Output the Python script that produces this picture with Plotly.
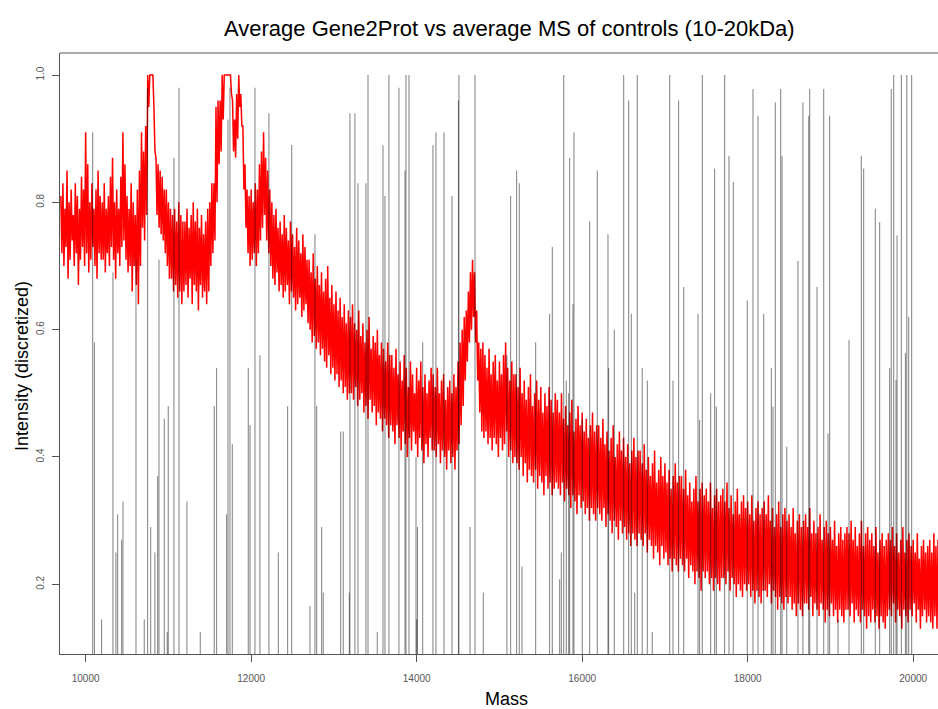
import plotly.graph_objects as go

# ---------------- data ----------------
# Red series (average Gene2Prot, discretized intensity in %): the dense line swings
# between an upper and a lower value; read every 25 Da from 9700 Da, upper value at
# each step and lower value half a step later.
red_start = 9700
red_step = 25
red_upper = [
    # 9700-10175
    81, 83, 79, 85, 80, 82, 78, 83, 81, 79, 84, 82, 91, 86, 80, 83, 79, 82, 85, 81,
    # 10200-10675
    80, 83, 79, 81, 84, 87, 80, 82, 79, 84, 91, 86, 81, 79, 83, 80, 78, 82, 85, 91,
    # 10700-11175
    88, 92, 100, 100, 100, 95, 87, 86, 85, 84, 82, 82, 80, 79, 78, 79, 77, 80, 78, 77,
    # 11200-11675
    77, 79, 76, 78, 80, 77, 79, 76, 78, 75, 77, 79, 80, 83, 83, 95, 96, 96, 100, 100,
    # 11700-12175
    100, 100, 100, 96, 93, 97, 100, 97, 92, 86, 82, 81, 82, 80, 83, 82, 86, 88, 91, 87,
    # 12200-12675
    85, 82, 80, 78, 79, 76, 77, 75, 78, 76, 74, 77, 75, 73, 76, 74, 72, 75, 73, 71,
    # 12700-13175
    71, 69, 72, 68, 70, 67, 69, 66, 68, 70, 65, 67, 64, 66, 63, 65, 62, 64, 61, 63,
    # 13200-13675
    62, 64, 61, 60, 63, 59, 61, 58, 60, 62, 57, 59, 58, 60, 56, 58, 57, 55, 58, 56,
    # 13700-14175
    56, 54, 57, 53, 55, 52, 56, 54, 51, 55, 53, 50, 54, 52, 55, 51, 53, 50, 52, 54,
    # 14200-14675
    53, 51, 54, 50, 52, 53, 49, 51, 52, 50, 53, 51, 55, 58, 60, 62, 63, 66, 69, 71,
    # 14700-15175
    69, 63, 58, 57, 58, 56, 54, 57, 53, 55, 56, 52, 55, 53, 56, 58, 54, 52, 55, 53,
    # 15200-15675
    53, 51, 54, 50, 52, 49, 51, 53, 48, 50, 52, 49, 51, 47, 50, 48, 51, 49, 47, 50,
    # 15700-16175
    49, 47, 50, 46, 48, 45, 47, 49, 44, 46, 48, 45, 47, 44, 46, 43, 45, 47, 44, 45,
    # 16200-16675
    45, 43, 46, 42, 44, 41, 43, 45, 40, 42, 44, 41, 43, 40, 42, 39, 41, 43, 40, 41,
    # 16700-17175
    41, 39, 42, 38, 40, 37, 39, 41, 36, 38, 40, 37, 39, 36, 38, 35, 37, 39, 36, 37,
    # 17200-17675
    37, 35, 38, 34, 36, 33, 35, 37, 33, 35, 36, 34, 35, 33, 36, 32, 34, 35, 33, 34,
    # 17700-18175
    35, 33, 36, 32, 34, 31, 33, 35, 31, 33, 34, 32, 33, 31, 34, 30, 32, 33, 31, 32,
    # 18200-18675
    33, 31, 34, 30, 32, 29, 31, 33, 29, 31, 32, 30, 31, 29, 32, 28, 30, 31, 29, 30,
    # 18700-19175
    31, 29, 32, 28, 30, 28, 29, 31, 27, 29, 30, 28, 29, 27, 30, 26, 28, 29, 27, 28,
    # 19200-19675
    29, 28, 30, 27, 29, 26, 28, 30, 26, 28, 29, 27, 28, 26, 29, 25, 27, 28, 26, 27,
    # 19700-20175
    28, 27, 29, 26, 28, 25, 27, 29, 25, 27, 28, 26, 27, 25, 28, 24, 26, 27, 25, 26,
    # 20200-20300
    27, 25, 28, 26, 27,
]
red_lower = [
    # 9712-10187
    72, 70, 73, 68, 71, 74, 70, 72, 67, 71, 73, 70, 72, 69, 71, 73, 70, 68, 72, 71,
    # 10212-10687
    71, 69, 72, 70, 73, 71, 68, 72, 70, 73, 74, 71, 69, 70, 66, 70, 67, 64, 70, 76,
    # 10712-11187
    74, 78, 95, 100, 100, 88, 78, 76, 75, 74, 72, 70, 68, 68, 66, 67, 65, 66, 64, 66,
    # 11212-11687
    67, 65, 68, 64, 67, 66, 63, 67, 65, 66, 64, 66, 70, 72, 74, 80, 86, 88, 93, 100,
    # 11712-12187
    100, 100, 97, 88, 87, 90, 95, 92, 82, 76, 72, 70, 71, 72, 70, 72, 74, 76, 78, 74,
    # 12212-12687
    72, 70, 68, 67, 69, 66, 67, 65, 66, 67, 64, 66, 65, 63, 64, 65, 62, 63, 64, 61,
    # 12712-13187
    60, 58, 59, 57, 58, 56, 57, 55, 54, 56, 53, 54, 52, 53, 51, 52, 50, 51, 49, 50,
    # 13212-13687
    50, 49, 51, 48, 49, 50, 47, 48, 46, 49, 47, 48, 45, 47, 46, 44, 46, 45, 43, 45,
    # 13712-14187
    44, 42, 45, 43, 41, 44, 42, 40, 43, 41, 44, 42, 40, 43, 41, 39, 42, 40, 43, 41,
    # 14212-14687
    41, 40, 42, 39, 41, 40, 38, 41, 39, 40, 38, 41, 42, 45, 48, 52, 55, 58, 60, 62,
    # 14712-15187
    58, 52, 47, 44, 43, 44, 42, 43, 41, 43, 42, 40, 43, 41, 42, 44, 40, 41, 39, 40,
    # 15212-15687
    39, 38, 40, 37, 39, 36, 38, 37, 36, 38, 35, 37, 36, 34, 37, 35, 36, 34, 35, 36,
    # 15712-16187
    35, 34, 36, 33, 35, 34, 32, 34, 33, 31, 34, 32, 33, 31, 32, 30, 32, 31, 30, 32,
    # 16212-16687
    31, 30, 32, 29, 31, 30, 28, 30, 29, 27, 30, 28, 29, 27, 28, 26, 28, 27, 26, 28,
    # 16712-17187
    27, 26, 28, 25, 27, 26, 24, 26, 25, 23, 26, 24, 25, 23, 24, 22, 24, 23, 22, 24,
    # 17212-17687
    23, 22, 24, 21, 23, 22, 20, 22, 21, 19, 22, 21, 22, 20, 21, 19, 21, 20, 19, 21,
    # 17712-18187
    21, 20, 22, 19, 21, 20, 18, 20, 19, 18, 20, 19, 20, 18, 19, 17, 19, 18, 17, 19,
    # 18212-18687
    19, 18, 20, 17, 19, 18, 16, 18, 17, 16, 18, 17, 18, 16, 17, 15, 17, 16, 15, 17,
    # 18712-19187
    17, 16, 18, 15, 17, 16, 15, 17, 16, 14, 16, 15, 17, 15, 16, 14, 16, 15, 14, 16,
    # 19212-19687
    16, 15, 17, 14, 16, 15, 14, 16, 15, 13, 15, 14, 16, 14, 15, 13, 15, 14, 13, 15,
    # 19712-20187
    16, 15, 17, 14, 16, 15, 13, 16, 15, 14, 16, 15, 17, 14, 16, 13, 15, 16, 14, 15,
    # 20212-20312
    14, 13, 15, 13, 14,
]

# Black spikes: average MS of controls (mass, intensity)
ms_mass = [
    10085, 10106, 10193, 10330, 10366, 10387, 10435, 10451, 10608, 10708,
    10749, 10786, 10837, 10870, 10886, 10950, 10986, 10998, 11067, 11128,
    11224, 11385, 11554, 11583, 11704, 11720, 11744, 11772, 11965, 11986,
    12046, 12106, 12215, 12328, 12441, 12490, 12711, 12771, 12792, 12852,
    12871, 13082, 13113, 13186, 13194, 13254, 13291, 13387, 13412, 13524,
    13593, 13617, 13665, 13786, 13859, 13871, 13907, 13992, 14000, 14010,
    14073, 14197, 14233, 14330, 14427, 14505, 14511, 14645, 14705, 14805,
    15091, 15136, 15208, 15240, 15273, 15438, 15607, 15639, 15728, 15748,
    15777, 15808, 15837, 15849, 15889, 15901, 16001, 16091, 16183, 16312,
    16320, 16388, 16502, 16562, 16594, 16635, 16666, 16726, 16787, 16847,
    17058, 17098, 17166, 17227, 17400, 17420, 17452, 17553, 17601, 17621,
    17722, 17774, 17826, 17995, 18064, 18125, 18194, 18286, 18306, 18334,
    18399, 18415, 18472, 18608, 18668, 18738, 18750, 18838, 18919, 18971,
    18991, 19092, 19225, 19373, 19402, 19542, 19595, 19716, 19735, 19765,
    19793, 19805, 19857, 19906, 19923, 19946, 19982,
]
ms_int = [
    0.91, 0.58, 0.145, 0.69, 0.25, 0.31, 0.27, 0.33, 0.71, 0.145,
    0.98, 0.29, 0.25, 0.37, 0.71, 0.46, 0.125, 0.48, 0.87, 0.98,
    0.33, 0.125, 0.48, 0.54, 0.31, 0.93, 0.98, 0.42, 0.54, 0.45,
    0.98, 0.56, 0.94, 0.25, 0.48, 0.89, 0.166, 0.75, 0.48, 0.29,
    0.187, 0.44, 0.44, 0.187, 0.94, 0.94, 0.83, 0.83, 1.0, 0.125,
    0.89, 0.81, 1.0, 0.98, 0.85, 1.0, 1.0, 0.40, 0.145, 0.29,
    0.58, 0.89, 0.91, 0.91, 0.81, 0.96, 1.0, 0.29, 1.0, 0.187,
    0.56, 0.81, 0.85, 0.83, 0.228, 0.58, 0.625, 0.73, 0.208, 0.25,
    1.0, 0.52, 0.50, 0.87, 0.64, 0.91, 0.46, 0.77, 0.85, 0.75,
    0.54, 0.60, 1.0, 0.96, 0.625, 0.187, 1.0, 0.54, 0.52, 0.125,
    1.0, 0.52, 0.96, 0.667, 0.625, 0.458, 1.0, 0.50, 0.853, 0.479,
    1.0, 0.873, 0.832, 0.646, 0.978, 0.936, 0.625, 0.54, 0.479, 0.957,
    0.978, 0.873, 0.416, 0.708, 0.957, 0.936, 0.978, 0.667, 0.978, 0.437,
    0.936, 0.145, 0.584, 0.873, 0.853, 0.79, 0.769, 0.54, 0.978, 1.0,
    0.521, 0.748, 1.0, 0.563, 1.0, 0.62, 1.0,
]

x_ticks = [10000, 12000, 14000, 16000, 18000, 20000]
y_ticks = [0.2, 0.4, 0.6, 0.8, 1.0]
y_tick_text = ["0.2", "0.4", "0.6", "0.8", "1.0"]

title_text = "Average Gene2Prot vs average MS of controls (10-20kDa)"
x_label = "Mass"
y_label = "Intensity (discretized)"

# ---------------- figure ----------------
red_x, red_y = [], []
for i, (a, b) in enumerate(zip(red_upper, red_lower)):
    red_x += [red_start + red_step * i, red_start + red_step * i + red_step / 2]
    red_y += [a / 100, b / 100]

spike_x, spike_y = [], []
for m, v in zip(ms_mass, ms_int):
    spike_x += [m, m, None]
    spike_y += [0, v, None]

fig = go.Figure()
fig.add_trace(go.Scatter(x=red_x, y=red_y, mode="lines",
                         line=dict(color="#ff0000", width=1.5, simplify=False),
                         hoverinfo="skip", showlegend=False))
fig.add_trace(go.Scatter(x=spike_x, y=spike_y, mode="lines",
                         line=dict(color="rgba(0,0,0,0.5)", width=1, simplify=False),
                         hoverinfo="skip", showlegend=False))

axis_font = dict(family="Liberation Sans, Arial, sans-serif", size=10, color="#555555")

fig.update_layout(
    width=938, height=709,
    margin=dict(l=60, r=0, t=53, b=55),
    paper_bgcolor="white", plot_bgcolor="white",
    xaxis=dict(range=[9690, 20300], tickvals=x_ticks,
               ticktext=[str(t) for t in x_ticks],
               ticks="outside", ticklen=7, tickcolor="#555555", tickwidth=1,
               showline=True, linecolor="#555555", linewidth=1,
               showgrid=False, zeroline=False, tickfont=axis_font,
               ticklabelstandoff=8),
    yaxis=dict(range=[0.0905, 1.0346], tickvals=y_ticks, ticktext=y_tick_text,
               ticks="outside", ticklen=7, tickcolor="#555555", tickwidth=1,
               showline=True, linecolor="#555555", linewidth=1,
               showgrid=False, zeroline=False, tickfont=axis_font,
               tickangle=-90, ticklabelstandoff=4),
    font=dict(family="Liberation Sans, Arial, sans-serif", color="black"),
)

# top frame line
fig.add_shape(type="line", xref="paper", yref="paper", x0=0, x1=1, y0=1, y1=1,
              line=dict(color="#555555", width=1))

fig.add_annotation(text=title_text, xref="paper", yref="paper",
                   x=0.512, y=1 + 25 / 601, xanchor="center", yanchor="middle",
                   showarrow=False, font=dict(size=22, color="black"))
fig.add_annotation(text=x_label, xref="paper", yref="paper",
                   x=(506 - 60) / 878, y=-(699 - 654) / 601,
                   xanchor="center", yanchor="middle",
                   showarrow=False, font=dict(size=18, color="black"))
fig.add_annotation(text=y_label, xref="paper", yref="paper",
                   x=-(60 - 22) / 878, y=(654 - 366) / 601,
                   xanchor="center", yanchor="middle", textangle=-90,
                   showarrow=False, font=dict(size=18, color="black"))

fig.write_html("out.html")
